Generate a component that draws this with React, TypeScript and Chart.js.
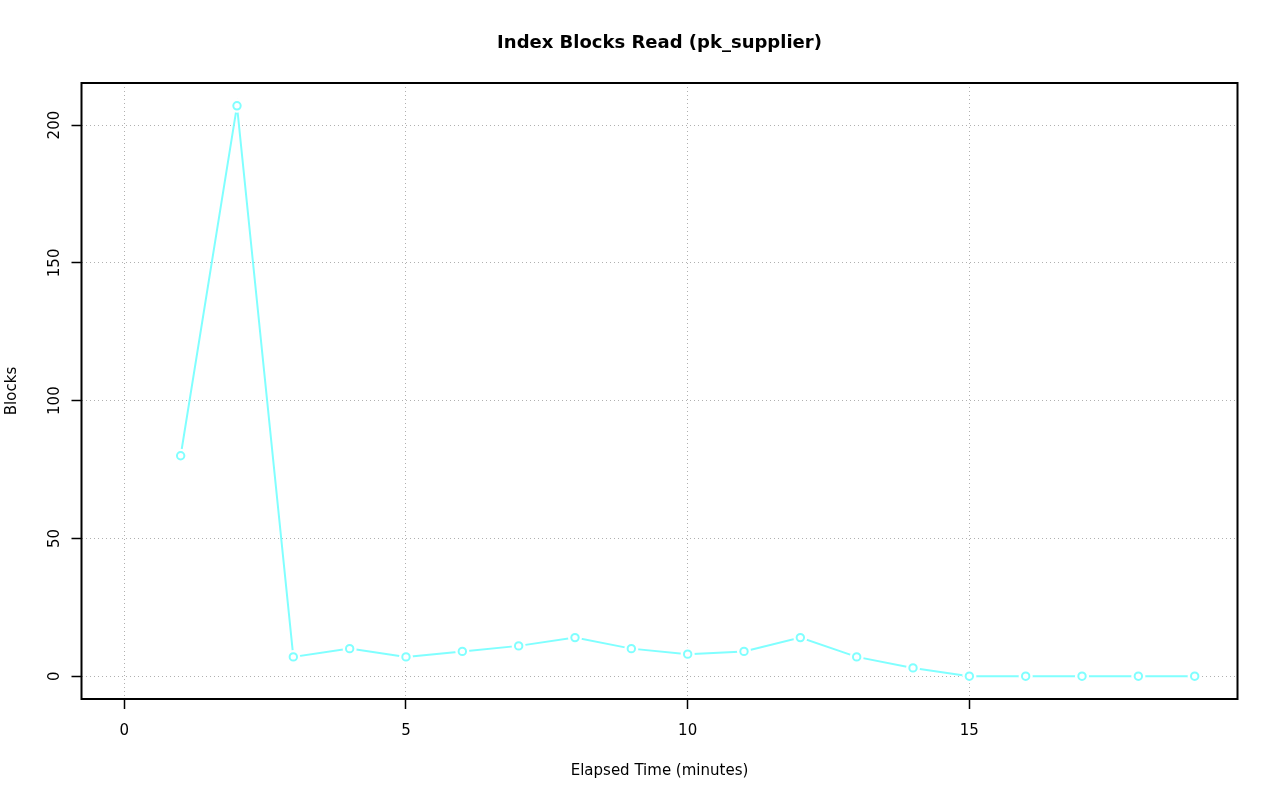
import React, { useEffect, useRef } from "react";
import { Chart, registerables } from "chart.js";

Chart.register(...registerables);

const minutes = [1, 2, 3, 4, 5, 6, 7, 8, 9, 10, 11, 12, 13, 14, 15, 16, 17, 18, 19];
const blocks = [80, 207, 7, 10, 7, 9, 11, 14, 10, 8, 9, 14, 7, 3, 0, 0, 0, 0, 0];
const xTicks = [0, 5, 10, 15];
const yTicks = [0, 50, 100, 150, 200];

const titleText = "Index Blocks Read (pk_supplier)";
const xLabel = "Elapsed Time (minutes)";
const yLabel = "Blocks";

const FONT = "'DejaVu Sans', Verdana, sans-serif";
const LINE = "#80ffff";
const GRID = "#b0b0b0";

const decor = {
  id: "decor",
  afterDatasetsDraw(chart: any) {
    const { ctx, chartArea } = chart;
    ctx.save();
    ctx.strokeStyle = "#000";
    ctx.lineWidth = 2;
    ctx.strokeRect(chartArea.left, chartArea.top, chartArea.right - chartArea.left, chartArea.bottom - chartArea.top);
    ctx.restore();
  },
  afterDraw(chart: any) {
    const { ctx, chartArea } = chart;
    const yScale = chart.scales.y;
    const cx = (chartArea.left + chartArea.right) / 2;
    const cy = (chartArea.top + chartArea.bottom) / 2;
    ctx.save();
    ctx.fillStyle = "#000";
    ctx.textAlign = "center";
    ctx.textBaseline = "alphabetic";
    ctx.font = `bold 18px ${FONT}`;
    ctx.fillText(titleText, cx, 48);
    ctx.font = `15px ${FONT}`;
    ctx.fillText(xLabel, cx, 775);
    // y tick labels (rotated, R style)
    for (const v of yTicks) {
      const py = yScale.getPixelForValue(v);
      ctx.save();
      ctx.translate(59, py);
      ctx.rotate(-Math.PI / 2);
      ctx.fillText(String(v), 0, 0);
      ctx.restore();
    }
    ctx.translate(16, cy);
    ctx.rotate(-Math.PI / 2);
    ctx.fillText(yLabel, 0, 0);
    ctx.restore();
  },
};

export default function App() {
  const ref = useRef<HTMLCanvasElement | null>(null);
  useEffect(() => {
    if (!ref.current) return;
    const pts = minutes.map((m, i) => ({ x: m, y: blocks[i] }));
    const chart = new Chart(ref.current, {
      type: "line",
      data: {
        datasets: [
          {
            data: pts,
            order: 0,
            showLine: false,
            pointRadius: 3.7,
            pointBackgroundColor: "rgba(0,0,0,0)",
            pointBorderColor: LINE,
            pointBorderWidth: 2,
          },
          {
            data: pts,
            order: 1,
            borderColor: LINE,
            borderWidth: 2,
            pointRadius: 7,
            pointBackgroundColor: "#ffffff",
            pointBorderWidth: 0,
            pointBorderColor: "#ffffff",
            tension: 0,
          },
        ],
      },
      options: {
        animation: false,
        responsive: false,
        maintainAspectRatio: false,
        layout: { padding: { left: 0, top: 83, right: 42.5, bottom: 0 } },
        plugins: { legend: { display: false }, tooltip: { enabled: false }, title: { display: false } },
        scales: {
          x: {
            type: "linear",
            min: -0.76,
            max: 19.76,
            afterBuildTicks: (s: any) => {
              s.ticks = xTicks.map((v) => ({ value: v }));
            },
            afterFit: (s: any) => {
              s.height = 102;
            },
            grid: {
              color: GRID,
              lineWidth: 1,
              drawTicks: true,
              tickLength: 10,
              tickColor: "#000",
              tickWidth: 1.5,
              tickBorderDash: [],
            },
            border: { display: false, dash: [1, 3] },
            ticks: {
              color: "#000",
              font: { family: FONT, size: 15 },
              padding: 13,
              maxRotation: 0,
              minRotation: 0,
              callback: (v: any) => String(v),
            },
          },
          y: {
            type: "linear",
            min: -8.28,
            max: 215.28,
            afterBuildTicks: (s: any) => {
              s.ticks = yTicks.map((v) => ({ value: v }));
            },
            afterFit: (s: any) => {
              s.width = 81.5;
            },
            grid: {
              color: GRID,
              lineWidth: 1,
              drawTicks: true,
              tickLength: 10,
              tickColor: "#000",
              tickWidth: 1.5,
              tickBorderDash: [],
            },
            border: { display: false, dash: [1, 3] },
            ticks: { display: false },
          },
        },
      },
      plugins: [decor],
    } as any);
    return () => chart.destroy();
  }, []);
  return (
    <div style={{ position: "fixed", left: 0, top: 0, width: 1280, height: 801, background: "#fff" }}>
      <canvas ref={ref} width={1280} height={801} style={{ width: 1280, height: 801, display: "block" }} />
    </div>
  );
}
